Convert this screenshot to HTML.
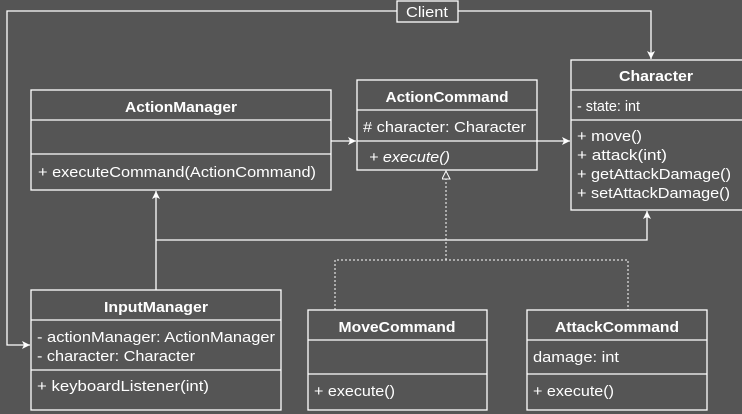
<!DOCTYPE html>
<html><head><meta charset="utf-8"><style>
html,body{margin:0;padding:0;background:#555555;}
svg{display:block;}
text{font-family:"Liberation Sans",sans-serif;font-size:15px;fill:#fff;}
.b{font-weight:bold;text-anchor:middle;}
</style></head><body>
<svg width="742" height="414" viewBox="0 0 742 414">
<defs>
<marker id="a" markerWidth="10" markerHeight="10" refX="8" refY="4" orient="auto" markerUnits="userSpaceOnUse">
<path d="M0,0 L8,4 L0,8 L2,4 Z" fill="#fff"/></marker>
<marker id="t" markerWidth="12" markerHeight="12" refX="9" refY="4" orient="auto" markerUnits="userSpaceOnUse">
<path d="M1,0 L9,4 L1,8 Z" fill="#555" stroke="#fff" stroke-width="1"/></marker>
</defs>
<g fill="none" stroke="#fff" stroke-width="1.3">
<polyline points="397,11 7,11 7,345 30,345" marker-end="url(#a)"/>
<polyline points="458,11 651,11 651,59" marker-end="url(#a)"/>
<line x1="331" y1="141" x2="356" y2="141" marker-end="url(#a)"/>
<line x1="537" y1="141" x2="570" y2="141" marker-end="url(#a)"/>
<line x1="156" y1="290" x2="156" y2="191" marker-end="url(#a)"/>
<polyline points="156,240 647,240 647,211" marker-end="url(#a)"/>
<polyline points="335,310 335,260 628,260 628,310" stroke-dasharray="2,2" stroke-width="1"/>
<line x1="446" y1="260" x2="446" y2="171" stroke-dasharray="2,2" stroke-width="1" marker-end="url(#t)"/>
<rect x="397" y="1" width="61" height="21"/>
<rect x="571" y="60" width="175" height="150"/>
<line x1="571" y1="90" x2="742" y2="90"/><line x1="571" y1="120" x2="742" y2="120"/>
<rect x="31" y="90" width="300" height="100"/>
<line x1="31" y1="120" x2="331" y2="120"/><line x1="31" y1="154" x2="331" y2="154"/>
<rect x="357" y="80" width="180" height="90"/>
<line x1="357" y1="110" x2="537" y2="110"/><line x1="357" y1="141" x2="537" y2="141"/>
<rect x="31" y="290" width="250" height="120"/>
<line x1="31" y1="320" x2="281" y2="320"/><line x1="31" y1="370" x2="281" y2="370"/>
<rect x="308" y="310" width="179" height="100"/>
<line x1="308" y1="340" x2="487" y2="340"/><line x1="308" y1="374" x2="487" y2="374"/>
<rect x="527" y="310" width="180" height="100"/>
<line x1="527" y1="340" x2="707" y2="340"/><line x1="527" y1="374" x2="707" y2="374"/>
</g>
<rect x="398" y="2" width="59" height="19" fill="#555"/>
<text x="427" y="17" text-anchor="middle" textLength="42" lengthAdjust="spacingAndGlyphs">Client</text>
<text class="b" x="656" y="81" textLength="74" lengthAdjust="spacingAndGlyphs">Character</text>
<text x="577" y="111" textLength="63" lengthAdjust="spacingAndGlyphs">- state: int</text>
<text x="577" y="141" textLength="65" lengthAdjust="spacingAndGlyphs">+ move()</text>
<text x="577" y="160" textLength="90" lengthAdjust="spacingAndGlyphs">+ attack(int)</text>
<text x="577" y="179" textLength="154" lengthAdjust="spacingAndGlyphs">+ getAttackDamage()</text>
<text x="577" y="198" textLength="153" lengthAdjust="spacingAndGlyphs">+ setAttackDamage()</text>
<text class="b" x="181" y="112" textLength="112" lengthAdjust="spacingAndGlyphs">ActionManager</text>
<text x="38" y="177" textLength="278" lengthAdjust="spacingAndGlyphs">+ executeCommand(ActionCommand)</text>
<text class="b" x="447" y="102" textLength="123" lengthAdjust="spacingAndGlyphs">ActionCommand</text>
<text x="363" y="132" textLength="163" lengthAdjust="spacingAndGlyphs"># character: Character</text>
<text x="369" y="162" font-style="italic" textLength="81" lengthAdjust="spacingAndGlyphs">+ execute()</text>
<text class="b" x="156" y="312" textLength="104" lengthAdjust="spacingAndGlyphs">InputManager</text>
<text x="37" y="342" textLength="238" lengthAdjust="spacingAndGlyphs">- actionManager: ActionManager</text>
<text x="37" y="361" textLength="158" lengthAdjust="spacingAndGlyphs">- character: Character</text>
<text x="37" y="391" textLength="172" lengthAdjust="spacingAndGlyphs">+ keyboardListener(int)</text>
<text class="b" x="397" y="332" textLength="117" lengthAdjust="spacingAndGlyphs">MoveCommand</text>
<text x="314" y="396" textLength="81" lengthAdjust="spacingAndGlyphs">+ execute()</text>
<text class="b" x="617" y="332" textLength="124" lengthAdjust="spacingAndGlyphs">AttackCommand</text>
<text x="533" y="362" textLength="86" lengthAdjust="spacingAndGlyphs">damage: int</text>
<text x="533" y="396" textLength="81" lengthAdjust="spacingAndGlyphs">+ execute()</text>
</svg>
</body></html>
